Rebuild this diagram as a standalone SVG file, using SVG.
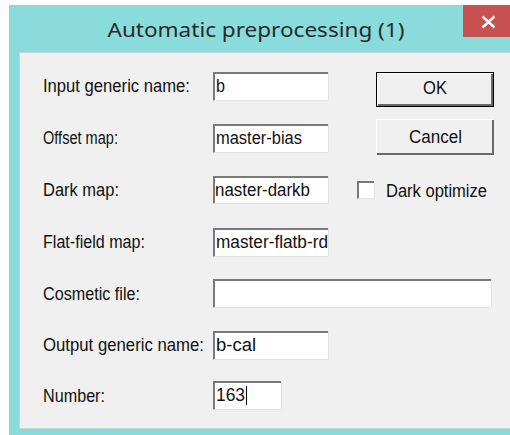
<svg xmlns="http://www.w3.org/2000/svg" width="510" height="435" viewBox="0 0 510 435">
  <style>
    .lbl { font-family: "Liberation Sans", Arial, sans-serif; font-size: 17.5px; fill: #111; }
    .val { font-family: "Liberation Sans", Arial, sans-serif; font-size: 17.5px; fill: #111; }
    .edit { fill: #ffffff; }
    .dk { stroke: #7a7a7a; stroke-width: 2; fill: none; }
    .lt { stroke: #e2e2e2; stroke-width: 1; fill: none; }
  </style>

  <!-- page and window frame -->
  <rect x="0" y="0" width="510" height="435" fill="#ffffff"/>
  <rect x="9" y="5" width="501" height="430" fill="#89dcdb"/>
  <rect x="19.5" y="52.5" width="491" height="376" fill="#f0f0f0" stroke="#c9d3d3" stroke-width="1"/>

  <!-- title bar -->
  <g id="title">
    <text x="256" y="36.5" text-anchor="middle" font-family="'Noto Sans', 'Open Sans', sans-serif" font-size="19.5" fill="#2a2a2a" textLength="297" lengthAdjust="spacingAndGlyphs">Automatic preprocessing (1)</text>
  </g>
  <g id="close">
    <rect x="463" y="5" width="47" height="32" fill="#c75050"/>
    <line x1="482.5" y1="16.5" x2="494.5" y2="27.5" stroke="#ffffff" stroke-width="2.4"/>
    <line x1="494.5" y1="16.5" x2="482.5" y2="27.5" stroke="#ffffff" stroke-width="2.4"/>
  </g>

  <!-- input generic name -->
  <g id="input-name">
    <text class="lbl" x="43" y="92" textLength="147" lengthAdjust="spacingAndGlyphs">Input generic name:</text>
    <rect class="edit" x="213" y="72" width="116" height="29"/>
    <polyline class="dk" points="214,101 214,73 329,73"/>
    <polyline class="lt" points="213.5,100.5 328.5,100.5 328.5,72"/>
    <text class="val" x="216" y="92" textLength="9" lengthAdjust="spacingAndGlyphs">b</text>
  </g>

  <!-- offset map -->
  <g id="offset-map">
    <text class="lbl" x="43" y="144" textLength="75" lengthAdjust="spacingAndGlyphs">Offset map:</text>
    <rect class="edit" x="213" y="124" width="116" height="29"/>
    <polyline class="dk" points="214,153 214,125 329,125"/>
    <polyline class="lt" points="213.5,152.5 328.5,152.5 328.5,124"/>
    <text class="val" x="216" y="144" textLength="86" lengthAdjust="spacingAndGlyphs">master-bias</text>
  </g>

  <!-- dark map -->
  <g id="dark-map">
    <text class="lbl" x="43" y="196" textLength="76" lengthAdjust="spacingAndGlyphs">Dark map:</text>
    <rect class="edit" x="213" y="176" width="116" height="28"/>
    <polyline class="dk" points="214,204 214,177 329,177"/>
    <polyline class="lt" points="213.5,203.5 328.5,203.5 328.5,176"/>
    <text class="val" x="215" y="196" textLength="95" lengthAdjust="spacingAndGlyphs">naster-darkb</text>
  </g>

  <!-- dark optimize checkbox -->
  <g id="dark-optimize">
    <rect x="357" y="181" width="18" height="18" fill="#ffffff"/>
    <polyline class="dk" points="358,199 358,182 375,182"/>
    <polyline class="lt" points="357.5,198.5 374.5,198.5 374.5,181"/>
    <text class="lbl" x="386" y="197" textLength="101" lengthAdjust="spacingAndGlyphs">Dark optimize</text>
  </g>

  <!-- flat-field map -->
  <g id="flat-map">
    <text class="lbl" x="43" y="248" textLength="102" lengthAdjust="spacingAndGlyphs">Flat-field map:</text>
    <rect class="edit" x="213" y="228" width="116" height="29"/>
    <polyline class="dk" points="214,257 214,229 329,229"/>
    <polyline class="lt" points="213.5,256.5 328.5,256.5 328.5,228"/>
    <text class="val" x="216" y="248" textLength="112" lengthAdjust="spacingAndGlyphs">master-flatb-rd</text>
  </g>

  <!-- cosmetic file -->
  <g id="cosmetic-file">
    <text class="lbl" x="43" y="300" textLength="97" lengthAdjust="spacingAndGlyphs">Cosmetic file:</text>
    <rect class="edit" x="213" y="279" width="279" height="29"/>
    <polyline class="dk" points="214,308 214,280 492,280"/>
    <polyline class="lt" points="213.5,307.5 491.5,307.5 491.5,279"/>
  </g>

  <!-- output generic name -->
  <g id="output-name">
    <text class="lbl" x="43" y="351" textLength="161" lengthAdjust="spacingAndGlyphs">Output generic name:</text>
    <rect class="edit" x="213" y="331" width="116" height="29"/>
    <polyline class="dk" points="214,360 214,332 329,332"/>
    <polyline class="lt" points="213.5,359.5 328.5,359.5 328.5,331"/>
    <text class="val" x="216" y="351" textLength="40" lengthAdjust="spacingAndGlyphs">b-cal</text>
  </g>

  <!-- number -->
  <g id="number">
    <text class="lbl" x="43" y="402" textLength="62" lengthAdjust="spacingAndGlyphs">Number:</text>
    <rect class="edit" x="213" y="381" width="69" height="29"/>
    <polyline class="dk" points="214,410 214,382 282,382"/>
    <polyline class="lt" points="213.5,409.5 281.5,409.5 281.5,381"/>
    <text class="val" x="216" y="401" textLength="29" lengthAdjust="spacingAndGlyphs">163</text>
    <line x1="246.5" y1="386" x2="246.5" y2="405" stroke="#000" stroke-width="1"/>
  </g>

  <!-- OK (default) button -->
  <g id="ok-button">
    <rect x="376.5" y="72.5" width="117" height="34" fill="#f0f0f0" stroke="#000" stroke-width="1"/>
    <polyline points="377.5,105 377.5,73.5 492,73.5" fill="none" stroke="#ffffff" stroke-width="1"/>
    <polyline points="378,105 492,105 492,74" fill="none" stroke="#6a6a6a" stroke-width="2"/>
    <text class="lbl" x="435" y="94" text-anchor="middle" textLength="24" lengthAdjust="spacingAndGlyphs">OK</text>
  </g>

  <!-- Cancel button -->
  <g id="cancel-button">
    <rect x="376" y="119" width="118" height="36" fill="#f0f0f0"/>
    <polyline points="376.5,154 376.5,119.5 493,119.5" fill="none" stroke="#ffffff" stroke-width="1"/>
    <polyline points="377,154 493,154 493,120" fill="none" stroke="#6a6a6a" stroke-width="2"/>
    <text class="lbl" x="435.5" y="143" text-anchor="middle" textLength="53" lengthAdjust="spacingAndGlyphs">Cancel</text>
  </g>
</svg>
